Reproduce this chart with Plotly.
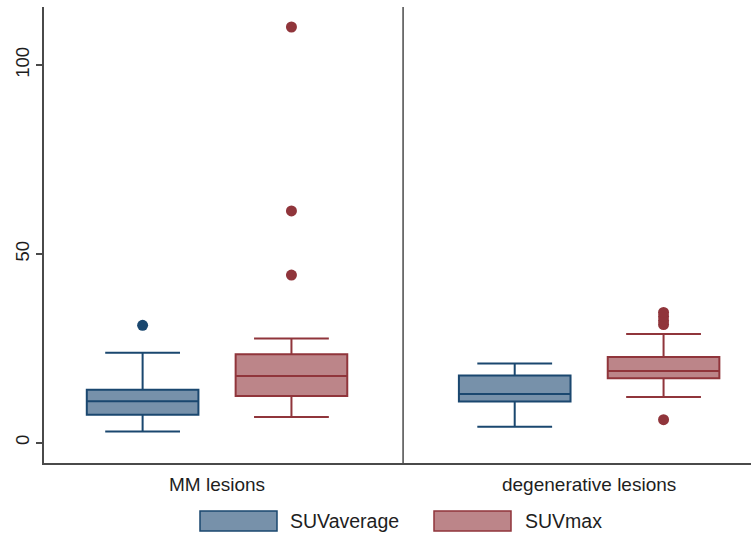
import plotly.graph_objects as go

# Lesion groups and the two SUV measures
groups = ["MM lesions", "degenerative lesions"]
series = ["SUVaverage", "SUVmax"]

# Box statistics per group (MM lesions, degenerative lesions)
suvavg_lower = [3.0, 4.2]
suvavg_q1 = [7.4, 10.9]
suvavg_median = [11.0, 12.9]
suvavg_q3 = [14.0, 17.8]
suvavg_upper = [23.8, 21.0]

suvmax_lower = [6.8, 12.1]
suvmax_q1 = [12.4, 17.1]
suvmax_median = [17.7, 19.0]
suvmax_q3 = [23.4, 22.7]
suvmax_upper = [27.6, 28.8]

# Outside values
suvavg_out_mm = [31.1]
suvavg_out_deg = []
suvmax_out_mm = [44.4, 61.4, 110.1]
suvmax_out_deg = [6.1, 31.3, 32.3, 33.4, 34.5]

y_ticks = [0, 50, 100]

# Colours (navy / maroon with lighter fills)
NAVY = "#1a476f"
NAVY_FILL = "#7791aa"
MAROON = "#90353b"
MAROON_FILL = "#bc8589"
AXIS = "#4a4a4a"
TEXT = "#1e1e1e"

# Layout geometry
W, H = 751, 535
L, R, T, B = 44, 0, 7, 72
OFFSET = 0.2      # half distance between paired boxes
BOX_W = 0.30

def xpaper(px):
    return (px - L) / (W - L - R)

def ypaper(py):
    return (H - B - py) / (H - T - B)

fig = go.Figure()

stats = [
    (series[0], suvavg_lower, suvavg_q1, suvavg_median, suvavg_q3, suvavg_upper,
     -OFFSET, NAVY, NAVY_FILL, [suvavg_out_mm, suvavg_out_deg]),
    (series[1], suvmax_lower, suvmax_q1, suvmax_median, suvmax_q3, suvmax_upper,
     OFFSET, MAROON, MAROON_FILL, [suvmax_out_mm, suvmax_out_deg]),
]

for name, lo, q1, med, q3, hi, off, line_c, fill_c, outs in stats:
    xs = [i + off for i in range(len(groups))]
    fig.add_trace(go.Box(
        name=name, x=xs, lowerfence=lo, q1=q1, median=med, q3=q3, upperfence=hi,
        width=BOX_W, whiskerwidth=0.67,
        line=dict(color=line_c, width=2), fillcolor=fill_c,
        showlegend=False, hoverinfo="skip",
    ))
    ox, oy = [], []
    for i, vals in enumerate(outs):
        ox += [i + off] * len(vals)
        oy += vals
    fig.add_trace(go.Scatter(
        x=ox, y=oy, mode="markers", showlegend=False,
        marker=dict(color=line_c, size=11, line=dict(width=0)),
    ))

# Divider between the two groups
fig.add_shape(type="line", xref="x", yref="paper", x0=0.5, x1=0.5, y0=0, y1=1,
              line=dict(color=AXIS, width=1.5))

# Legend drawn beneath the plot
legend_items = [
    (series[0], NAVY, NAVY_FILL, 200, 277, 288),
    (series[1], MAROON, MAROON_FILL, 434, 511, 523),
]
for name, line_c, fill_c, x0, x1, tx in legend_items:
    fig.add_shape(type="rect", xref="paper", yref="paper",
                  x0=xpaper(x0), x1=xpaper(x1), y0=ypaper(511), y1=ypaper(531),
                  line=dict(color=line_c, width=1.5), fillcolor=fill_c)
    fig.add_annotation(xref="paper", yref="paper", x=xpaper(tx), y=ypaper(521),
                       text=name, showarrow=False, xanchor="left", yanchor="middle",
                       font=dict(family="Liberation Sans, Arial", size=19.5, color=TEXT))

fig.update_layout(
    width=W, height=H,
    margin=dict(l=L, r=R, t=T, b=B, pad=0),
    paper_bgcolor="white", plot_bgcolor="white",
    font=dict(family="Liberation Sans, Arial", size=18, color=TEXT),
    xaxis=dict(
        range=[-0.465, 1.435], tickmode="array", tickvals=[0, 1], ticktext=groups,
        showgrid=False, zeroline=False, showline=True, linecolor=AXIS, linewidth=1.5,
        ticks="", ticklabelstandoff=3,
        tickfont=dict(family="Liberation Sans, Arial", size=19, color=TEXT),
    ),
    yaxis=dict(
        range=[-5.37, 115.4], tickmode="array", tickvals=y_ticks,
        showgrid=False, zeroline=False, showline=True, linecolor=AXIS, linewidth=1.5,
        ticks="outside", ticklen=6, tickwidth=1.5, tickcolor=AXIS, tickangle=-90,
        tickfont=dict(family="Liberation Sans, Arial", size=18.5, color=TEXT),
    ),
)

fig.write_html("out.html")
